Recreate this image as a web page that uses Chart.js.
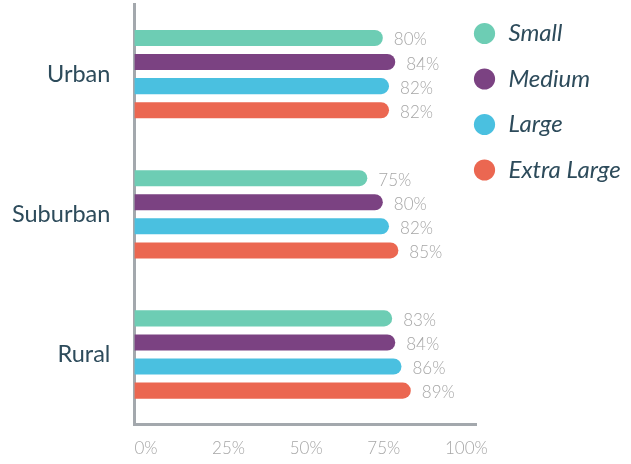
<!DOCTYPE html>
<html>
<head>
<meta charset="utf-8">
<script src="https://cdn.jsdelivr.net/npm/chart.js@4/dist/chart.umd.min.js"></script>
<style>
  html, body { margin: 0; padding: 0; background: #fff; }
  #wrap { width: 631px; height: 464px; }
</style>
</head>
<body>
<div id="wrap"><canvas id="areaChart"></canvas></div>
<script>
const categories = ["Urban", "Suburban", "Rural"];
const seriesNames = ["Small", "Medium", "Large", "Extra Large"];
const small = [80, 75, 83];
const medium = [84, 80, 84];
const large = [82, 82, 86];
const extraLarge = [82, 85, 89];
const tickValues = [0, 25, 50, 75, 100];

const colors = ["#6dcdb4", "#7b4282", "#4ac0e0", "#eb6751"];
const textDark = "#2d4b5b";
const textGray = "#a6a6a6";
const axisGray = "#a3a8ad";

// value labels at the end of each bar
const valueLabels = {
  id: "valueLabels",
  afterDatasetsDraw(chart) {
    const ctx = chart.ctx;
    ctx.save();
    ctx.font = "300 17px Lato";
    ctx.fillStyle = textGray;
    ctx.textAlign = "left";
    ctx.textBaseline = "middle";
    chart.data.datasets.forEach((ds, i) => {
      chart.getDatasetMeta(i).data.forEach((bar, j) => {
        ctx.fillText(ds.data[j] + "%", bar.x + 11, bar.y + 2);
      });
    });
    ctx.restore();
  }
};

// pull the legend a bit closer to the plot
const legendNudge = {
  id: "legendNudge",
  afterLayout(chart) {
    chart.legend.left -= 25;
    chart.legend.top -= 4;
  }
};

const ctx = document.getElementById("areaChart");

new Chart(ctx, {
  type: "bar",
  data: {
    labels: categories,
    datasets: [small, medium, large, extraLarge].map((values, i) => ({
      label: seriesNames[i],
      data: values,
      backgroundColor: colors[i],
      borderRadius: 8,
      borderSkipped: "start",
      categoryPercentage: 0.687,
      barPercentage: 0.667
    }))
  },
  options: {
    indexAxis: "y",
    responsive: true,
    maintainAspectRatio: false,
    animation: false,
    layout: { padding: { top: 4, bottom: 5, left: 12, right: 0 } },
    scales: {
      x: {
        min: 0,
        max: 110,
        afterBuildTicks(scale) {
          scale.ticks = tickValues.map(v => ({ value: v }));
        },
        afterFit(scale) {
          scale.height -= scale.options.ticks.padding;
        },
        grid: { display: false, drawTicks: false },
        border: { color: axisGray, width: 3 },
        ticks: {
          align: "start",
          padding: 14,
          color: textGray,
          font: { family: "Lato", size: 17, weight: 300 },
          callback: v => v + "%"
        }
      },
      y: {
        afterFit(scale) {
          scale.paddingTop = 0;
          scale.paddingBottom = 0;
          scale.width -= scale.options.ticks.padding;
        },
        grid: { display: false, drawTicks: false },
        border: { color: axisGray, width: 3 },
        ticks: {
          padding: 24,
          color: textDark,
          font: { family: "Lato", size: 23.5 }
        }
      }
    },
    plugins: {
      legend: {
        position: "right",
        align: "start",
        maxWidth: 155,
        labels: {
          usePointStyle: true,
          pointStyle: "circle",
          boxHeight: 15,
          padding: 21.5,
          color: textDark,
          font: { family: "Lato", size: 24, style: "italic" }
        }
      },
      tooltip: { enabled: false }
    }
  },
  plugins: [valueLabels, legendNudge]
});
</script>
</body>
</html>
